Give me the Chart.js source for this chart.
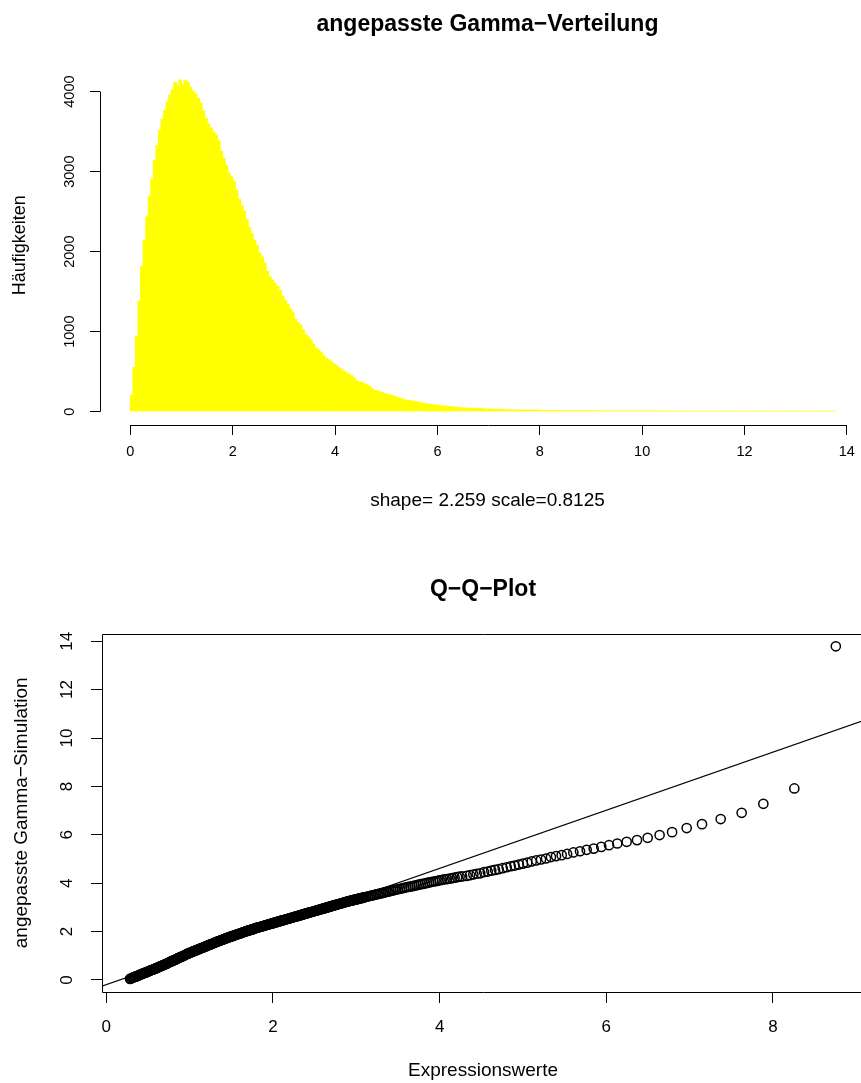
<!DOCTYPE html>
<html>
<head>
<meta charset="utf-8">
<script src="https://cdn.jsdelivr.net/npm/chart.js@4.4.1/dist/chart.umd.min.js"></script>
<style>
  html, body { margin: 0; padding: 0; background: #fff; overflow: hidden; }
  #wrap { position: relative; width: 861px; height: 1083px; overflow: hidden; }
  .panel { position: absolute; left: 0; width: 900px; }
  #topPanel { top: 0; height: 542px; }
  #bottomPanel { top: 542px; height: 541px; }
</style>
</head>
<body>
<div id="wrap">
  <div class="panel" id="topPanel"><canvas id="hist"></canvas></div>
  <div class="panel" id="bottomPanel"><canvas id="qq"></canvas></div>
</div>
<script>
// ---- histogram (bins of 0.05 starting at 0) ----
var histTitle = 'angepasste Gamma\u2212Verteilung';
var histXLabel = 'shape= 2.259 scale=0.8125';
var histYLabel = 'H\u00e4ufigkeiten';
var histBinStart = 0;
var histBinWidth = 0.05;
var histCounts = [
  210,560,950,1390,1820,2150,2440,2700,2910,3150,
  3330,3520,3660,3770,3880,3960,4030,4120,4080,4150,
  4090,4145,4120,4060,4010,3980,3920,3860,3760,3670,
  3600,3550,3500,3460,3390,3260,3170,3080,2990,2940,
  2880,2770,2660,2580,2510,2410,2310,2230,2150,2080,
  1990,1940,1860,1760,1690,1650,1610,1570,1520,1450,
  1400,1350,1290,1250,1160,1120,1090,1030,970,940,
  910,850,800,780,750,705,675,655,630,605,
  585,555,540,510,490,475,455,425,390,375,
  372,355,340,320,290,272,265,255,245,230,
  222,214,205,195,182,172,162,154,147,143,
  137,131,125,119,112,106,100,97,91,87,
  83,79,76,73,70,67,63,60,57,54,
  52,51,49,47,46,44,43,42,40,38,
  37,35,33,34,33,32,30,29,28,28,
  27,26,25,25,25,24,25,24,24,23,
  22,22,21,21,21,20,20,20,
  19,19,18,18,19,18,17,18,17,17,
  17,16,17,16,16,17,16,15,16,16,
  15,16,15,15,16,15,15,14,15,15,
  14,15,14,14,15,14,14,14,13,14,
  14,13,14,13,13,14,13,13,13,14,
  13,13,12,13,13,13,12,13,12,13,
  12,13,12,12,13,12,12,12,13,12,
  12,12,12,11,12,12,12,11,12,12,
  11,12,11,12,11,11,12,11,11,12,
  11,11,11,12,11,11,11,11,12,11,
  11,11,11,11,12,11,11,11
];
var histXTicks = [0, 2, 4, 6, 8, 10, 12, 14];
var histYTicks = [0, 1000, 2000, 3000, 4000];

// ---- Q-Q plot ----
var qqTitle = 'Q\u2212Q\u2212Plot';
var qqXLabel = 'Expressionswerte';
var qqYLabel = 'angepasste Gamma\u2212Simulation';
var qqX = [
  0.285,0.29,
  0.30,0.31,0.32,0.33,0.34,0.35,0.36,0.37,0.38,0.39,
  0.40,0.41,0.42,0.43,0.44,0.45,0.46,0.47,0.48,0.49,
  0.50,0.51,0.52,0.53,0.54,0.55,0.56,0.57,0.58,0.59,
  0.60,0.61,0.62,0.63,0.64,0.65,0.66,0.67,0.68,0.69,
  0.70,0.71,0.72,0.73,0.74,0.75,0.76,0.77,0.78,0.79,
  0.80,0.81,0.82,0.83,0.84,0.85,0.86,0.87,0.88,0.89,
  0.90,0.91,0.92,0.93,0.94,0.95,0.96,0.97,0.98,0.99,
  1.00,1.01,1.02,1.03,1.04,1.05,1.06,1.07,1.08,1.09,
  1.10,1.11,1.12,1.13,1.14,1.15,1.16,1.17,1.18,1.19,
  1.20,1.21,1.22,1.23,1.24,1.25,1.26,1.27,1.28,1.29,
  1.30,1.31,1.32,1.33,1.34,1.35,1.36,1.37,1.38,1.39,
  1.40,1.41,1.42,1.43,1.44,1.45,1.46,1.47,1.48,1.49,
  1.50,1.51,1.52,1.53,1.54,1.55,1.56,1.57,1.58,1.59,
  1.60,1.61,1.62,1.63,1.64,1.65,1.66,1.67,1.68,1.69,
  1.70,1.71,1.72,1.73,1.74,1.75,1.76,1.77,1.78,1.79,
  1.80,1.81,1.82,1.83,1.84,1.85,1.86,1.87,1.88,1.89,
  1.90,1.91,1.92,1.93,1.94,1.95,1.96,1.97,1.98,1.99,
  2.00,2.01,2.02,2.03,2.04,2.05,2.06,2.07,2.08,2.09,
  2.10,2.11,2.12,2.13,2.14,2.15,2.16,2.17,2.18,2.19,
  2.20,2.21,2.22,2.23,2.24,2.25,2.26,2.27,2.28,2.29,
  2.30,2.31,2.32,2.33,2.34,2.35,2.36,2.37,2.38,2.39,
  2.40,2.41,2.42,2.43,2.44,2.45,2.46,2.47,2.48,2.49,
  2.50,2.51,2.52,2.53,2.54,2.55,2.56,2.57,2.58,2.59,
  2.60,2.61,2.62,2.63,2.64,2.65,2.66,2.67,2.68,2.69,
  2.70,2.71,2.72,2.73,2.74,2.75,2.76,2.77,2.78,2.79,
  2.80,2.81,2.82,2.83,2.84,2.85,2.86,2.87,2.88,2.89,
  2.90,2.91,2.92,2.93,2.94,2.95,2.96,2.97,2.98,2.99,
  3.00,3.01,3.02,3.03,3.04,3.05,3.06,3.07,3.08,3.09,
  3.10,
  3.12,3.14,3.16,3.18,3.20,3.22,3.24,3.26,3.28,3.30,
  3.32,3.34,3.36,3.38,3.40,3.42,3.44,3.46,3.48,3.50,
  3.525,3.55,3.575,3.60,3.625,3.65,3.675,3.70,3.725,3.75,
  3.775,3.80,3.825,3.85,3.875,3.90,3.925,3.95,3.975,4.00,
  4.03,4.06,4.09,4.12,4.15,4.18,4.21,4.24,4.27,
  4.325,4.365,4.405,4.445,4.488,4.533,4.577,4.62,4.665,4.709,
  4.757,4.805,4.853,4.90,4.95,5.00,5.052,5.105,5.16,5.217,
  5.277,5.336,5.397,5.465,5.53,5.605,5.685,5.765,5.849,5.94,
  6.033,6.132,6.245,6.369,6.497,6.64,6.79,6.965,7.149,7.373,
  7.625,7.885,8.257,8.755
];
var qqY = [
  0.04,0.06,
  0.07,0.085,0.10,0.115,0.13,0.14,0.15,0.165,0.18,0.195,
  0.21,0.225,0.24,0.255,0.27,0.28,0.29,0.305,0.32,0.335,
  0.35,0.365,0.38,0.395,0.41,0.42,0.43,0.445,0.46,0.475,
  0.49,0.505,0.52,0.535,0.55,0.565,0.58,0.595,0.61,0.625,
  0.64,0.655,0.67,0.685,0.70,0.72,0.74,0.755,0.77,0.785,
  0.80,0.815,0.83,0.845,0.86,0.88,0.90,0.915,0.93,0.945,
  0.96,0.975,0.99,1.005,1.02,1.04,1.06,1.075,1.09,1.105,
  1.12,1.135,1.15,1.165,1.18,1.19,1.20,1.215,1.23,1.245,
  1.26,1.275,1.29,1.305,1.32,1.33,1.34,1.355,1.37,1.385,
  1.40,1.415,1.43,1.445,1.46,1.47,1.48,1.495,1.51,1.525,
  1.54,1.555,1.57,1.585,1.60,1.61,1.62,1.635,1.65,1.66,
  1.67,1.685,1.70,1.715,1.73,1.74,1.75,1.765,1.78,1.79,
  1.80,1.81,1.82,1.835,1.85,1.86,1.87,1.885,1.90,1.91,
  1.92,1.93,1.94,1.955,1.97,1.98,1.99,2.005,2.02,2.03,
  2.04,2.05,2.06,2.07,2.08,2.09,2.10,2.115,2.13,2.14,
  2.15,2.16,2.17,2.18,2.19,2.20,2.21,2.22,2.23,2.24,
  2.25,2.26,2.27,2.28,2.29,2.30,2.31,2.32,2.33,2.34,
  2.35,2.36,2.37,2.38,2.39,2.40,2.41,2.42,2.43,2.44,
  2.45,2.46,2.47,2.48,2.49,2.50,2.51,2.52,2.53,2.54,
  2.55,2.56,2.57,2.58,2.59,2.60,2.61,2.62,2.63,2.64,
  2.65,2.66,2.67,2.68,2.69,2.70,2.71,2.72,2.73,2.74,
  2.75,2.76,2.77,2.78,2.79,2.80,2.81,2.82,2.83,2.84,
  2.85,2.86,2.87,2.88,2.89,2.90,2.91,2.92,2.93,2.94,
  2.95,2.96,2.97,2.98,2.99,3.00,3.01,3.02,3.03,3.04,
  3.05,3.06,3.07,3.08,3.09,3.10,3.11,3.12,3.13,3.14,
  3.15,3.16,3.17,3.18,3.19,3.20,3.21,3.22,3.23,3.24,
  3.25,3.26,3.27,3.275,3.28,3.29,3.30,3.31,3.32,3.325,
  3.33,3.34,3.35,3.36,3.37,3.375,3.38,3.39,3.40,3.41,
  3.42,
  3.44,3.45,3.47,3.49,3.50,3.52,3.54,3.55,3.57,3.59,
  3.60,3.62,3.64,3.65,3.67,3.69,3.70,3.72,3.74,3.75,
  3.77,3.79,3.81,3.83,3.85,3.86,3.88,3.90,3.92,3.94,
  3.96,3.97,3.99,4.01,4.03,4.05,4.07,4.08,4.10,4.12,
  4.14,4.16,4.17,4.19,4.21,4.23,4.25,4.27,4.28,
  4.30,4.33,4.36,4.39,4.41,4.46,4.48,4.52,4.55,4.58,
  4.62,4.66,4.70,4.73,4.77,4.81,4.85,4.90,4.94,4.98,
  5.02,5.08,5.12,5.16,5.21,5.27,5.32,5.38,5.43,5.50,
  5.57,5.64,5.71,5.78,5.875,5.99,6.11,6.28,6.44,6.65,
  6.91,7.28,7.915,13.79
];
var refLineX = [-0.1, 9.2];
var refLineY = [-0.31, 10.86];
var qqXTicks = [0, 2, 4, 6, 8];
var qqYTicks = [0, 2, 4, 6, 8, 10, 12, 14];

Chart.defaults.font.family = "'Liberation Sans', Arial, Helvetica, sans-serif";
Chart.defaults.color = '#000';

// R style axis lines: only from first to last tick, or a full box
var rAxes = {
  id: 'rAxes',
  afterDraw: function(chart, args, opts) {
    var ctx = chart.ctx, a = chart.chartArea;
    var sx = chart.scales.x, sy = chart.scales.y;
    ctx.save();
    ctx.strokeStyle = '#000';
    ctx.lineWidth = 1;
    ctx.beginPath();
    if (opts.box) {
      ctx.rect(Math.round(a.left) + 0.5, Math.round(a.top) + 0.5,
               Math.round(a.right - a.left), Math.round(a.bottom - a.top));
    } else {
      var xt = sx.ticks, yt = sy.ticks;
      var yb = Math.round(a.bottom) + 0.5, xl = Math.round(a.left) + 0.5;
      ctx.moveTo(sx.getPixelForValue(xt[0].value), yb);
      ctx.lineTo(sx.getPixelForValue(xt[xt.length - 1].value), yb);
      ctx.moveTo(xl, sy.getPixelForValue(yt[0].value));
      ctx.lineTo(xl, sy.getPixelForValue(yt[yt.length - 1].value));
    }
    ctx.stroke();
    ctx.restore();
  }
};

function tickSetter(list) {
  return function(s) { s.ticks = list.map(function(v) { return {value: v}; }); };
}
function plainLabel(v) { return String(v); }

// histogram data
var histData = [];
for (var i = 0; i < histCounts.length; i++) {
  histData.push({x: histBinStart + (i + 0.5) * histBinWidth, y: histCounts[i]});
}

new Chart(document.getElementById('hist'), {
  type: 'bar',
  data: {
    datasets: [{
      data: histData,
      backgroundColor: '#ffff00',
      borderWidth: 0,
      barPercentage: 1.45,
      categoryPercentage: 1
    }]
  },
  options: {
    responsive: true,
    maintainAspectRatio: false,
    animation: false,
    devicePixelRatio: 1,
    layout: { padding: { left: 0, right: 25, top: 0, bottom: 0 } },
    plugins: {
      legend: { display: false },
      tooltip: { enabled: false },
      title: {
        display: true, text: histTitle, fullSize: false,
        font: { size: 23, weight: 'bold' }, color: '#000',
        padding: { top: 11, bottom: 27 }
      },
      rAxes: { box: false }
    },
    scales: {
      x: {
        type: 'linear', min: -0.594, max: 14.55, offset: false,
        afterBuildTicks: tickSetter(histXTicks),
        afterFit: function(s) { s.height = 117; },
        grid: { display: true, offset: false, drawOnChartArea: false, drawTicks: true,
                tickLength: 10, color: '#000', tickColor: '#000', lineWidth: 1 },
        border: { display: false },
        ticks: { padding: 8, font: { size: 14.5 }, color: '#000', maxRotation: 0,
                 autoSkip: false, callback: plainLabel },
        title: { display: true, text: histXLabel, font: { size: 19 }, color: '#000',
                 padding: { top: 0, bottom: 30 } }
      },
      y: {
        type: 'linear', min: -166, max: 4325,
        afterBuildTicks: tickSetter(histYTicks),
        afterFit: function(s) { s.width = 100; },
        grid: { display: true, drawOnChartArea: false, drawTicks: true,
                tickLength: 10, color: '#000', tickColor: '#000', lineWidth: 1 },
        border: { display: false },
        ticks: { padding: 4, font: { size: 14.5 }, color: '#000',
                 minRotation: 90, maxRotation: 90, crossAlign: 'center',
                 autoSkip: false, callback: plainLabel },
        title: { display: true, text: histYLabel, font: { size: 18 }, color: '#000',
                 padding: { top: 9, bottom: 0 } }
      }
    }
  },
  plugins: [rAxes]
});

// Q-Q data
var qqPoints = [];
for (var j = 0; j < qqX.length; j++) qqPoints.push({x: qqX[j], y: qqY[j]});
var linePoints = [];
for (var k = 0; k < refLineX.length; k++) linePoints.push({x: refLineX[k], y: refLineY[k]});

new Chart(document.getElementById('qq'), {
  type: 'scatter',
  data: {
    datasets: [{
      type: 'line',
      data: linePoints,
      borderColor: '#000',
      borderWidth: 1.2,
      pointRadius: 0,
      fill: false
    }, {
      data: qqPoints,
      pointStyle: 'circle',
      pointRadius: 4.6,
      pointBorderWidth: 1.5,
      pointBorderColor: '#000',
      pointBackgroundColor: 'rgba(0,0,0,0)'
    }]
  },
  options: {
    responsive: true,
    maintainAspectRatio: false,
    animation: false,
    devicePixelRatio: 1,
    layout: { padding: { left: 0, right: 36, top: 0, bottom: 0 } },
    plugins: {
      legend: { display: false },
      tooltip: { enabled: false },
      title: {
        display: true, text: qqTitle, fullSize: false,
        font: { size: 23, weight: 'bold' }, color: '#000',
        padding: { top: 34, bottom: 30 }
      },
      rAxes: { box: true }
    },
    scales: {
      x: {
        type: 'linear', min: -0.0516, max: 9.093,
        afterBuildTicks: tickSetter(qqXTicks),
        afterFit: function(s) { s.height = 91; },
        grid: { display: true, drawOnChartArea: false, drawTicks: true,
                tickLength: 11, color: '#000', tickColor: '#000', lineWidth: 1 },
        border: { display: false },
        ticks: { padding: 14, font: { size: 17 }, color: '#000', maxRotation: 0,
                 autoSkip: false, callback: plainLabel },
        title: { display: true, text: qqXLabel, font: { size: 19 }, color: '#000',
                 padding: { top: 0, bottom: 1 } }
      },
      y: {
        type: 'linear', min: -0.4965, max: 14.315,
        afterBuildTicks: tickSetter(qqYTicks),
        afterFit: function(s) { s.width = 102; },
        grid: { display: true, drawOnChartArea: false, drawTicks: true,
                tickLength: 11, color: '#000', tickColor: '#000', lineWidth: 1 },
        border: { display: false },
        ticks: { padding: 14, font: { size: 17 }, color: '#000',
                 minRotation: 90, maxRotation: 90, crossAlign: 'center',
                 autoSkip: false, callback: plainLabel },
        title: { display: true, text: qqYLabel, font: { size: 19 }, color: '#000',
                 padding: { top: 10, bottom: 0 } }
      }
    }
  },
  plugins: [rAxes]
});
</script>
</body>
</html>
